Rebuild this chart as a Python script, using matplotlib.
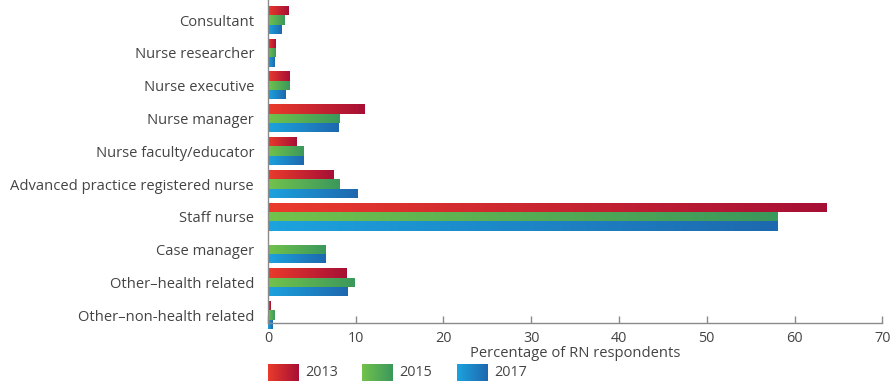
import numpy as np
import matplotlib
matplotlib.use("Agg")
import matplotlib.pyplot as plt
from matplotlib.colors import LinearSegmentedColormap

plt.rcParams["font.family"] = ["Open Sans", "DejaVu Sans"]

roles = [
    "Consultant",
    "Nurse researcher",
    "Nurse executive",
    "Nurse manager",
    "Nurse faculty/educator",
    "Advanced practice registered nurse",
    "Staff nurse",
    "Case manager",
    "Other\u2013health related",
    "Other\u2013non-health related",
]
years = ["2013", "2015", "2017"]
pct_2013 = [2.3, 0.8, 2.4, 11.0, 3.2, 7.5, 63.6, 0.0, 8.9, 0.3]
pct_2015 = [1.9, 0.8, 2.4, 8.1, 4.0, 8.1, 58.1, 6.6, 9.8, 0.7]
pct_2017 = [1.5, 0.7, 2.0, 8.0, 4.0, 10.2, 58.1, 6.5, 9.1, 0.5]
series = [pct_2013, pct_2015, pct_2017]

# left -> right shading for each year
GRADS = [
    ("#EA3B2C", "#A60F35"),
    ("#72C24C", "#3B985C"),
    ("#1CA3DE", "#1E68AE"),
]
TXT = "#444444"
AX_C = "#8a8a8a"


def grad_cmap(c0, c1):
    return LinearSegmentedColormap.from_list("g", [c0, c1])


ramp = np.linspace(0, 1, 256).reshape(1, -1)

fig = plt.figure(figsize=(8.93, 3.81), dpi=100)
ax = fig.add_axes([0.300, 0.152, 0.688, 0.848])

y = np.arange(len(roles))
h = 0.285
offsets = [-0.29, -0.005, 0.28]
for vals, off, (c0, c1) in zip(series, offsets, GRADS):
    bars = ax.barh(y + off, vals, height=h, color="none", edgecolor="none")
    cmap = grad_cmap(c0, c1)
    for b in bars:
        w = b.get_width()
        if w <= 0:
            continue
        x0, y0 = b.get_x(), b.get_y()
        im = ax.imshow(ramp, cmap=cmap, aspect="auto", interpolation="bilinear",
                       extent=(x0, x0 + w, y0 + b.get_height(), y0), zorder=2)
        im.set_clip_path(b)

ax.set_xlim(0, 70)
ax.set_ylim(9.24, -0.61)
ax.set_xticks(range(0, 71, 10))
ax.set_yticks(y)
ax.set_yticklabels(roles)
ax.tick_params(axis="y", length=0, pad=10, labelsize=10.6, labelcolor=TXT)
ax.tick_params(axis="x", direction="in", length=5, width=1, color=AX_C,
               pad=6, labelsize=10.4, labelcolor=TXT)
for s in ("top", "right"):
    ax.spines[s].set_visible(False)
for s in ("left", "bottom"):
    ax.spines[s].set_color(AX_C)
    ax.spines[s].set_linewidth(1.0)
ax.set_xlabel("Percentage of RN respondents", fontsize=10.6, color=TXT, labelpad=0)

# legend row with shaded swatches
leg_x = [0.300, 0.405, 0.512]
for lx, yr, (c0, c1) in zip(leg_x, years, GRADS):
    sw = fig.add_axes([lx, 0.0, 0.034, 0.045])
    sw.imshow(ramp, cmap=grad_cmap(c0, c1), aspect="auto", interpolation="bilinear")
    sw.set_axis_off()
    fig.text(lx + 0.042, 0.022, yr, fontsize=10.4, color=TXT, va="center")

fig.savefig("out.png", dpi=100)
